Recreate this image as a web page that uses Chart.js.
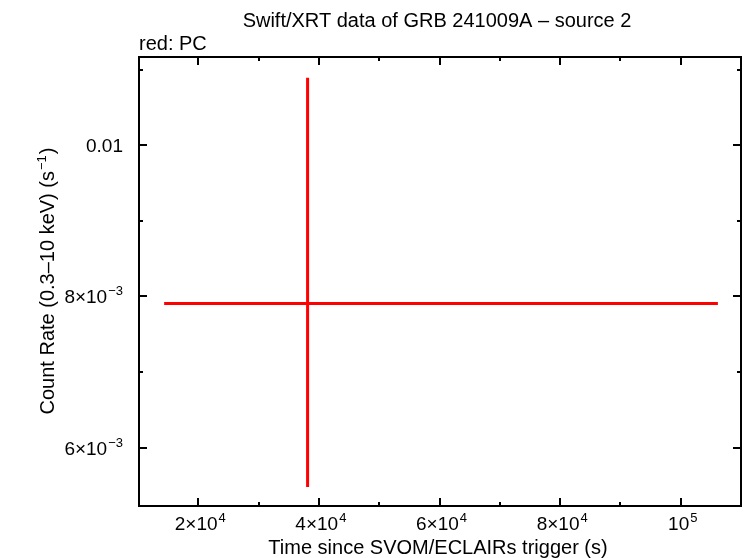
<!DOCTYPE html>
<html>
<head>
<meta charset="utf-8">
<script src="https://cdn.jsdelivr.net/npm/chart.js@4"></script>
<style>
  html, body { margin: 0; padding: 0; background: #fff; }
  #wrap { width: 746px; height: 558px; }
</style>
</head>
<body>
<div id="wrap"><canvas id="lc" width="746" height="558"></canvas></div>
<script>
/* Swift/XRT light curve - GRB 241009A source 2 */

// --- DATA ---
const times = [38130];
const timeErrLow = [14350];
const timeErrHigh = [106150];
const rates = [0.007908];
const rateErrLow = [0.005479];
const rateErrHigh = [0.010895];

const xMajorTicks = [20000, 40000, 60000, 80000, 100000];
const xTickMant = ['2\u00d710', '4\u00d710', '6\u00d710', '8\u00d710', '10'];
const xTickExp = ['4', '4', '4', '4', '5'];
const xMinorTicks = [30000, 50000, 70000, 90000];

const yMajorTicks = [0.006, 0.008, 0.01];
const yTickMant = ['6\u00d710', '8\u00d710', '0.01'];
const yTickExp = ['\u22123', '\u22123', ''];
const yMinorTicks = [0.007, 0.009, 0.011];

const FONT = '"Liberation Sans", Arial, Helvetica, sans-serif';
const RED = '#ff0000';

// --- PLUGIN: error bars ---
const errorBars = {
    id: 'errorBars',
    afterDatasetsDraw(chart) {
        const ctx = chart.ctx;
        const xs = chart.scales.x, ys = chart.scales.y;
        ctx.save();
        ctx.strokeStyle = RED;
        ctx.lineWidth = 3;
        times.forEach((t, i) => {
            const px = xs.getPixelForValue(t), py = ys.getPixelForValue(rates[i]);
            ctx.beginPath();
            ctx.moveTo(xs.getPixelForValue(timeErrLow[i]), py);
            ctx.lineTo(xs.getPixelForValue(timeErrHigh[i]), py);
            ctx.moveTo(px, ys.getPixelForValue(rateErrLow[i]));
            ctx.lineTo(px, ys.getPixelForValue(rateErrHigh[i]));
            ctx.stroke();
        });
        ctx.restore();
    }
};

// --- PLUGIN: frame, inward ticks, labels ---
function supLabel(ctx, mant, exp, x, y, align) {
    ctx.font = '19px ' + FONT;
    const wm = ctx.measureText(mant).width;
    ctx.font = '13px ' + FONT;
    const we = exp ? ctx.measureText(exp).width + 1 : 0;
    let left = align === 'right' ? x - wm - we : x - (wm + we) / 2;
    ctx.textAlign = 'left';
    ctx.textBaseline = 'alphabetic';
    ctx.font = '19px ' + FONT;
    ctx.fillText(mant, left, y);
    if (exp) {
        ctx.font = '13px ' + FONT;
        ctx.fillText(exp, left + wm + 1, y - 8);
    }
}

const frame = {
    id: 'frame',
    afterDraw(chart) {
        const ctx = chart.ctx;
        const a = chart.chartArea;
        const xs = chart.scales.x, ys = chart.scales.y;
        ctx.save();
        ctx.strokeStyle = '#000';
        ctx.lineWidth = 2;
        ctx.strokeRect(a.left, a.top, a.right - a.left, a.bottom - a.top);

        ctx.beginPath();
        const tick = (v, len, axis) => {
            if (axis === 'x') {
                const p = Math.round(xs.getPixelForValue(v));
                ctx.moveTo(p, a.bottom); ctx.lineTo(p, a.bottom - len);
                ctx.moveTo(p, a.top); ctx.lineTo(p, a.top + len);
            } else {
                const p = Math.round(ys.getPixelForValue(v));
                ctx.moveTo(a.left, p); ctx.lineTo(a.left + len, p);
                ctx.moveTo(a.right, p); ctx.lineTo(a.right - len, p);
            }
        };
        xMajorTicks.forEach(v => tick(v, 8, 'x'));
        xMinorTicks.forEach(v => tick(v, 4, 'x'));
        yMajorTicks.forEach(v => tick(v, 8, 'y'));
        yMinorTicks.forEach(v => tick(v, 4, 'y'));
        ctx.stroke();

        ctx.fillStyle = '#000';
        xMajorTicks.forEach((v, i) => supLabel(ctx, xTickMant[i], xTickExp[i], xs.getPixelForValue(v) + 2, a.bottom + 24, 'center'));
        yMajorTicks.forEach((v, i) => supLabel(ctx, yTickMant[i], yTickExp[i], a.left - 16, ys.getPixelForValue(v) + 7, 'right'));

        // titles
        ctx.font = '20px ' + FONT;
        ctx.textAlign = 'center';
        ctx.textBaseline = 'alphabetic';
        ctx.fillText('Swift/XRT data of GRB 241009A \u2013 source 2', 437, 27);
        ctx.fillText('Time since SVOM/ECLAIRs trigger (s)', 438, 554);
        ctx.textAlign = 'left';
        ctx.fillText('red: PC', a.left, 50);

        ctx.translate(54, 281);
        ctx.rotate(-Math.PI / 2);
        const main = 'Count Rate (0.3\u201310 keV) (s';
        const w = ctx.measureText(main).width;
        ctx.font = '13px ' + FONT;
        const we = ctx.measureText('\u22121').width;
        ctx.font = '20px ' + FONT;
        const wc = ctx.measureText(')').width;
        const start = -(w + we + wc + 2) / 2;
        ctx.fillText(main, start, 0);
        ctx.font = '13px ' + FONT;
        ctx.fillText('\u22121', start + w + 1, -8);
        ctx.font = '20px ' + FONT;
        ctx.fillText(')', start + w + we + 2, 0);
        ctx.restore();
    }
};

// --- CHART ---
const ctx = document.getElementById('lc').getContext('2d');
new Chart(ctx, {
    type: 'scatter',
    data: {
        datasets: [{
            data: times.map((t, i) => ({ x: t, y: rates[i] })),
            pointRadius: 0,
            borderColor: RED,
            backgroundColor: RED
        }]
    },
    options: {
        responsive: false,
        animation: false,
        layout: { padding: { left: 139, right: 5, top: 57, bottom: 52 } },
        plugins: { legend: { display: false }, tooltip: { enabled: false } },
        scales: {
            x: { type: 'linear', min: 10180, max: 109980, display: false },
            y: { type: 'linear', min: 0.005228, max: 0.011168, display: false }
        }
    },
    plugins: [errorBars, frame]
});
</script>
</body>
</html>
